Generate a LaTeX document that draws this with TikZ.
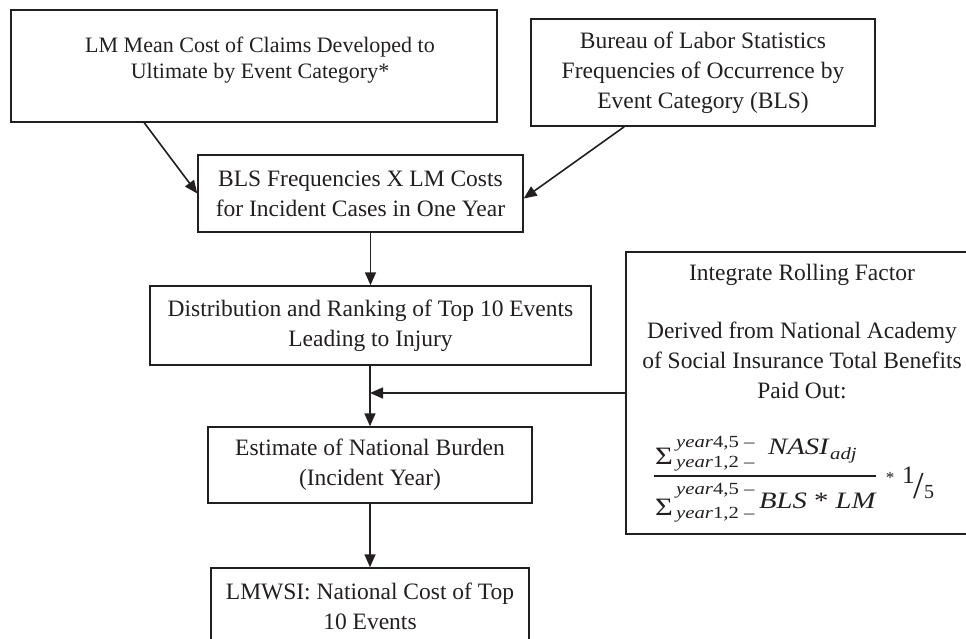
\documentclass[tikz,border=0pt]{standalone}
\usepackage{fontspec}
\setmainfont{Liberation Serif}
\usetikzlibrary{arrows.meta}
\definecolor{ink}{HTML}{231F20}
\newcommand\hstretch[1]{\scalebox{1.22}[1]{#1}}
\tikzset{
  box/.style={draw=ink, line width=1.5pt, inner sep=0pt, align=center, text=ink,
    font=\fontsize{23.5}{30}\selectfont},
  conn/.style={draw=ink, line width=1.6pt, -{Triangle[length=13pt,width=11pt]}},
  txt/.style={inner sep=0pt, align=center, text=ink, font=\fontsize{23.5}{30}\selectfont},
  ftxt/.style={inner sep=0pt, anchor=base west, text=ink, font=\fontsize{23.5}{28}\selectfont\itshape},
  stxt/.style={inner sep=0pt, anchor=base west, text=ink, font=\fontsize{17}{20}\selectfont\itshape},
  sigtxt/.style={inner sep=0pt, anchor=base west, text=ink, font=\fontsize{25}{28}\selectfont},
}
\begin{document}
\begin{tikzpicture}[x=1pt,y=-1pt]
\clip (0,0) rectangle (966,638);
% top boxes
\node[box, minimum width=486pt, minimum height=112pt] (A) at (254,66) {};
\node[txt, font=\fontsize{22}{26}\selectfont] (At) at (260,60) {LM Mean Cost of Claims Developed to\\Ultimate by Event Category*};
\node[box, minimum width=344pt, minimum height=107pt] (B) at (703,72.5) {Bureau of Labor Statistics\\Frequencies of Occurrence by\\Event Category (BLS)};
% chain
\node[box, minimum width=325pt, minimum height=77pt] (C) at (360.5,193.5) {BLS Frequencies X LM Costs\\for Incident Cases in One Year};
\node[box, minimum width=441pt, minimum height=79pt] (D) at (370.5,325.5) {Distribution and Ranking of Top 10 Events\\Leading to Injury};
\node[box, minimum width=324pt, minimum height=76pt] (E) at (370,465) {Estimate of National Burden\\(Incident Year)};
\node[box, minimum width=318pt, minimum height=76pt] (F) at (370,606) {LMWSI: National Cost of Top\\10 Events};
% rolling factor box
\node[box, minimum width=352pt, minimum height=282pt] (G) at (802,393) {};
\node[txt] (G1) at (802,275) {Integrate Rolling Factor};
\node[txt] (G2) at (802,360) {Derived from National Academy\\of Social Insurance Total Benefits\\Paid Out:};
% formula
\node[sigtxt] (s1) at (655,464) {\hstretch{\symbol{"03A3}}};
\node[stxt] (s1u) at (676,447) {\hstretch{year{\upshape 4,5 –}}};
\node[stxt] (s1d) at (676,467) {\hstretch{year{\upshape 1,2 –}}};
\node[ftxt] (num) at (768,454) {\hstretch{NASI}};
\node[stxt] (numsub) at (830,459) {\hstretch{adj}};
\coordinate (barL) at (654,476);
\coordinate (barR) at (876,476);
\draw[ink, line width=2pt] (barL) -- (barR);
\node[sigtxt] (s2) at (655,515) {\hstretch{\symbol{"03A3}}};
\node[stxt] (s2u) at (676,494) {\hstretch{year{\upshape 4,5 –}}};
\node[stxt] (s2d) at (676,518) {\hstretch{year{\upshape 1,2 –}}};
\node[ftxt] (den) at (759,508) {\hstretch{BLS {\upshape *} LM}};
\node[inner sep=0pt, text=ink, font=\fontsize{17}{20}\selectfont] (star) at (890,478) {*};
\node[inner sep=0pt, anchor=base west, text=ink, font=\fontsize{25}{28}\selectfont] (one) at (902,483) {1};
\node[inner sep=0pt, anchor=base west, text=ink, font=\fontsize{38}{40}\selectfont] (sl) at (913,498) {/};
\node[inner sep=0pt, anchor=base west, text=ink, font=\fontsize{20}{24}\selectfont] (five) at (924,498) {5};
% connectors
\draw[conn] ([xshift=134pt]A.south west) -- (C.west);
\draw[conn] ([xshift=94pt]B.south west) -- ([yshift=-5pt]C.east);
\draw[conn] (D.north |- C.south) -- (D.north);
\draw[conn] (E.north |- D.south) -- (E.north);
\draw[conn] (G.west) -- (G.west -| E.north);
\draw[conn] (F.north |- E.south) -- (F.north);
\end{tikzpicture}
\end{document}
